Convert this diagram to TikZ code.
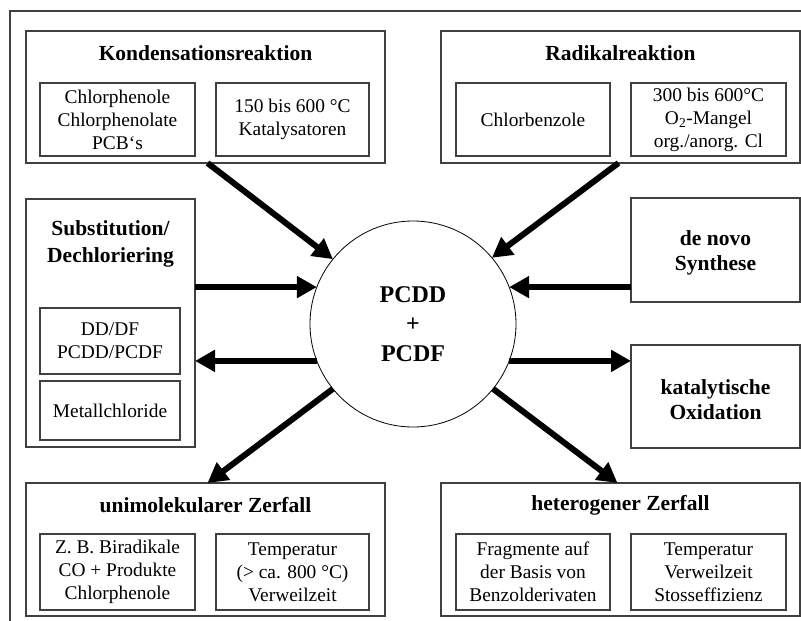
\documentclass[tikz,border=0pt]{standalone}
\usepackage{fontspec}
\setmainfont{Liberation Serif}
\usetikzlibrary{arrows.meta}
\begin{document}
\begin{tikzpicture}[x=1pt,y=-1pt,
  frame/.style={draw=black!75,line width=1.3pt},
  outerbox/.style={draw=black!75,line width=1.3pt,rectangle,inner sep=0pt,outer sep=0pt},
  innerbox/.style={draw=black!75,line width=1.3pt,rectangle,inner sep=0pt,outer sep=0pt,align=center,
    font=\fontsize{19.4}{23}\selectfont},
  titletext/.style={inner sep=0pt,align=center,font=\fontsize{21.5}{25.5}\selectfont\bfseries},
  bigarrow/.style={line width=6pt,-{Triangle[length=20pt,width=21pt]}},
  hub/.style={draw=black,line width=0.8pt,circle,minimum size=206pt,inner sep=0pt,outer sep=0pt,align=center,
    font=\fontsize{24}{29.5}\selectfont\bfseries}]
\useasboundingbox (0,0) rectangle (801,621);
\coordinate (fbl) at (10,621);
\coordinate (ftl) at (10,11);
\coordinate (ftr) at (801,11);
\draw[frame] (fbl) -- (ftl) -- (ftr);

% hub
\node[hub] (circ) at (413,324) {PCDD\\+\\PCDF};

% Kondensationsreaktion
\node[outerbox,minimum width=359pt,minimum height=132pt] (kond) at (205.5,97) {};
\node[titletext] (kondt) at (205.5,53) {Kondensationsreaktion};
\node[innerbox,minimum width=155pt,minimum height=73pt] (kond1) at (117.5,119.5) {Chlorphenole\\Chlorphenolate\\PCB‘s};
\node[innerbox,minimum width=153pt,minimum height=73pt] (kond2) at (292.5,119.5) {150 bis 600 °C\\Katalysatoren};

% Radikalreaktion
\node[outerbox,minimum width=359pt,minimum height=132pt] (rad) at (620.5,97) {};
\node[titletext] (radt) at (620.5,53) {Radikalreaktion};
\node[innerbox,minimum width=154pt,minimum height=73pt] (rad1) at (533,119.5) {Chlorbenzole};
\node[innerbox,minimum width=155pt,minimum height=73pt] (rad2) at (708.5,119.5) {300 bis 600°C\\O\textsubscript{2}-Mangel\\org./anorg. Cl};

% Substitution
\node[outerbox,minimum width=169pt,minimum height=248pt] (sub) at (110.5,323) {};
\node[titletext,font=\fontsize{21.5}{27}\selectfont\bfseries] (subt) at (110.5,244) {Substitution/\\Dechloriering};
\node[innerbox,minimum width=140pt,minimum height=66pt] (sub1) at (110,341) {DD/DF\\PCDD/PCDF};
\node[innerbox,minimum width=140pt,minimum height=59pt] (sub2) at (110,410.5) {Metallchloride};

% de novo
\node[outerbox,minimum width=169pt,minimum height=104pt] (denovo) at (715.5,250) {};
\node[titletext] (denovot) at (715.5,253) {de novo\\Synthese};

% katalytische Oxidation
\node[outerbox,minimum width=169pt,minimum height=103pt] (katal) at (715.5,396.5) {};
\node[titletext] (katalt) at (715.5,399.5) {katalytische\\Oxidation};

% unimolekularer Zerfall
\node[outerbox,minimum width=359pt,minimum height=133pt] (uni) at (205.5,549.5) {};
\node[titletext] (unit) at (205.5,505) {unimolekularer Zerfall};
\node[innerbox,minimum width=155pt,minimum height=76pt] (uni1) at (117.5,572) {Z. B. Biradikale\\CO + Produkte\\Chlorphenole};
\node[innerbox,minimum width=153pt,minimum height=76pt] (uni2) at (292.5,572) {Temperatur\\(> ca. 800 °C)\\Verweilzeit};

% heterogener Zerfall
\node[outerbox,minimum width=359pt,minimum height=133pt] (het) at (620.5,549.5) {};
\node[titletext] (hett) at (620.5,505) {heterogener Zerfall};
\node[innerbox,minimum width=154pt,minimum height=76pt] (het1) at (533,572) {Fragmente auf\\der Basis von\\Benzolderivaten};
\node[innerbox,minimum width=155pt,minimum height=76pt] (het2) at (708.5,572) {Temperatur\\Verweilzeit\\Stosseffizienz};

% arrows
\draw[bigarrow] ([xshift=2pt]kond.south) -- (circ.141);
\draw[bigarrow] ([xshift=-2pt]rad.south) -- (circ.40);
\draw[bigarrow] (sub.east |- circ.159) -- (circ.159);
\draw[bigarrow] (denovo.west |- circ.21) -- (circ.21);
\draw[bigarrow] (circ.201) -- (sub.east |- circ.201);
\draw[bigarrow] (circ.-21) -- (katal.west |- circ.-21);
\draw[bigarrow] (circ.219) -- ([xshift=2pt]uni.north);
\draw[bigarrow] (circ.-39) -- ([xshift=-3pt]het.north);
\end{tikzpicture}
\end{document}
